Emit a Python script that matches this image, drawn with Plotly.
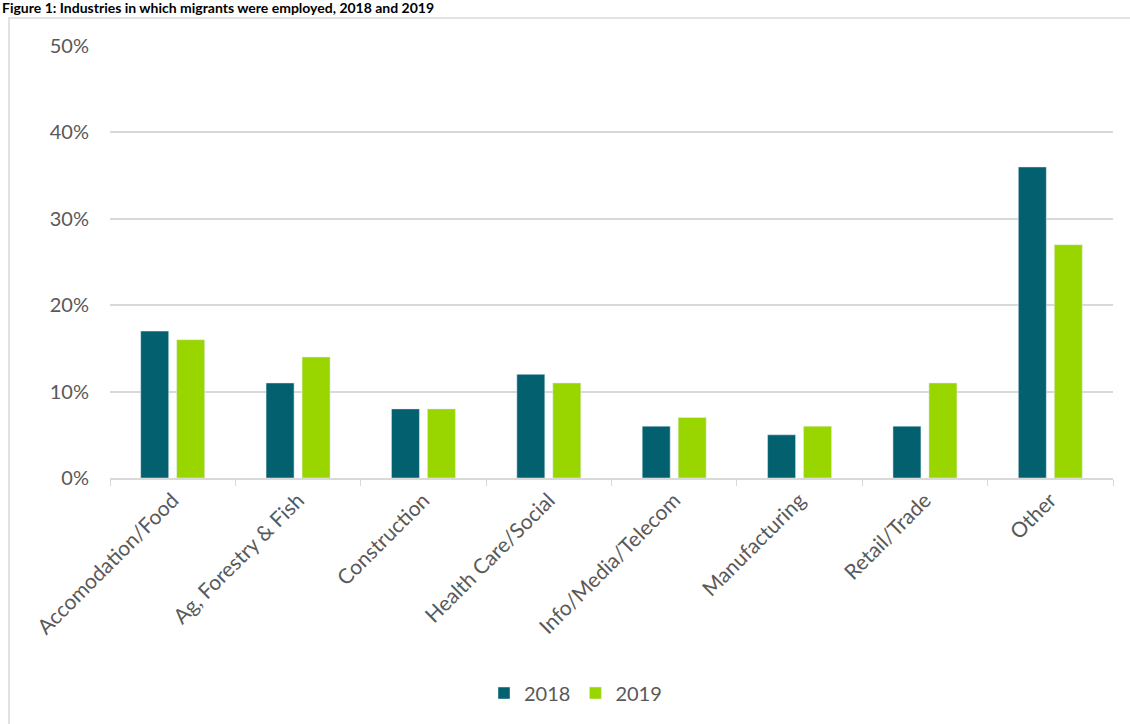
import plotly.graph_objects as go

categories = ["Accomodation/Food", "Ag, Forestry & Fish", "Construction", "Health Care/Social",
              "Info/Media/Telecom", "Manufacturing", "Retail/Trade", "Other"]
values_2018 = [17, 11, 8, 12, 6, 5, 6, 36]
values_2019 = [16, 14, 8, 11, 7, 6, 11, 27]
y_ticks = [0, 10, 20, 30, 40, 50]

W, H = 1130, 724
ML, MR, MT, MB = 110, 17, 46, 246
PW, PH = W - ML - MR, H - MT - MB

def px_x(p):
    return (p - ML) / PW

def px_y(p):
    return (H - MB - p) / PH

FONT = "Lato, Noto Sans, sans-serif"

fig = go.Figure()
fig.add_trace(go.Bar(name="2018", x=categories, y=values_2018, marker_color="#03606F"))
fig.add_trace(go.Bar(name="2019", x=categories, y=values_2019, marker_color="#99D600"))

fig.update_layout(
    width=W, height=H,
    margin=dict(l=ML, r=MR, t=MT, b=MB),
    paper_bgcolor="white", plot_bgcolor="white",
    barmode="group", bargap=0.426, bargroupgap=0.222,
    font=dict(family=FONT, size=20, color="#595959"),
    showlegend=True,
    legend=dict(orientation="h", x=px_x(484), xanchor="left", y=px_y(693), yanchor="middle",
                font=dict(size=20, color="#595959"), itemwidth=30, traceorder="normal"),
    xaxis=dict(tickangle=-45, showline=True, linecolor="#D9D9D9", linewidth=1.5,
               ticks="outside", tickson="boundaries", ticklen=6, tickcolor="#D9D9D9",
               showgrid=False, tickfont=dict(size=21, color="#595959")),
    yaxis=dict(range=[0, 50], tickvals=y_ticks, ticktext=[f"{v}%" for v in y_ticks],
               showgrid=True, gridcolor="#D9D9D9", gridwidth=1.5, zeroline=False,
               showline=False, ticks="", ticklabelstandoff=20,
               tickfont=dict(size=20, color="#595959")),
    shapes=[dict(type="rect", xref="paper", yref="paper",
                 x0=px_x(9), x1=px_x(1200), y0=px_y(800), y1=px_y(18),
                 line=dict(color="#D9D9D9", width=1.5), fillcolor="rgba(0,0,0,0)", layer="below")],
    annotations=[dict(text="<b>Figure 1: Industries in which migrants were employed, 2018 and 2019</b>",
                      xref="paper", yref="paper", x=px_x(0), y=px_y(18), xanchor="left", yanchor="bottom",
                      showarrow=False, font=dict(family="Lato, sans-serif", size=14, color="#000000"))],
)

fig.write_html("out.html")
